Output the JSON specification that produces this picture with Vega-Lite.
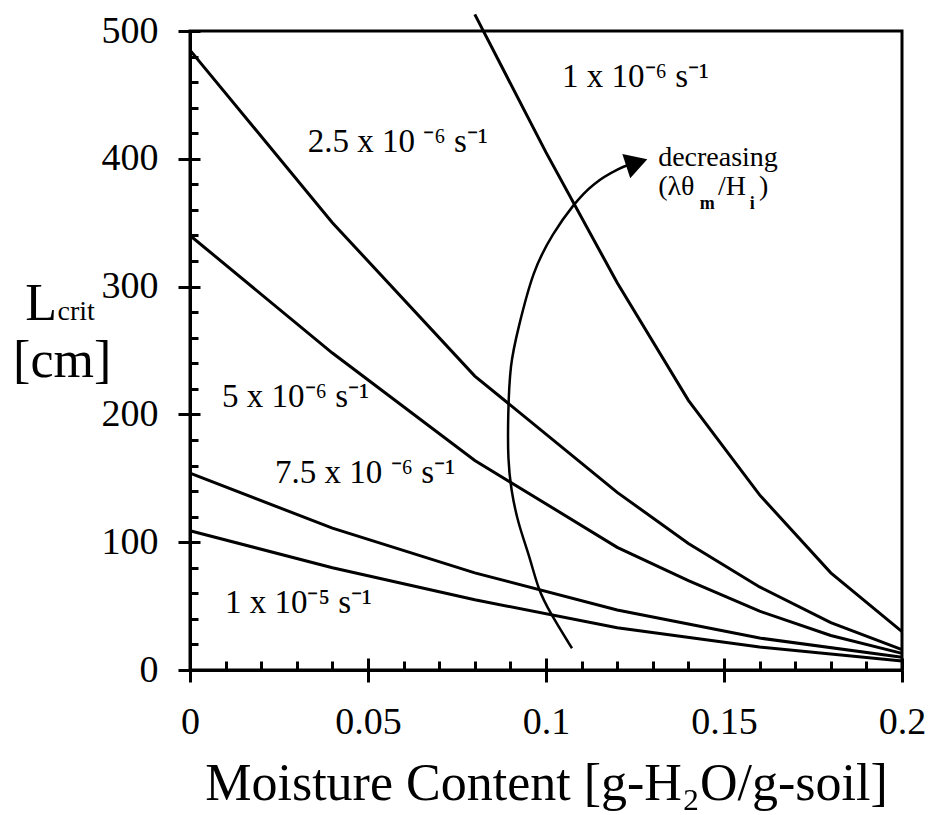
{
  "$schema": "https://vega.github.io/schema/vega-lite/v6.json",
  "width": 712,
  "height": 639,
  "autosize": {"type": "none"},
  "padding": {"left": 190, "top": 31, "right": 29, "bottom": 145},
  "background": "white",
  "config": {
    "view": {"stroke": "black", "strokeWidth": 3},
    "font": "Liberation Serif",
    "axis": {"grid": false, "tickColor": "black", "domainColor": "black", "labelColor": "black", "titleColor": "black", "labelFont": "Liberation Serif", "titleFont": "Liberation Serif"}
  },
  "datasets": {
    "curves": [
      {"series": "1e-6", "x": 0.08, "y": 513},
      {"series": "1e-6", "x": 0.1, "y": 405},
      {"series": "1e-6", "x": 0.12, "y": 303},
      {"series": "1e-6", "x": 0.14, "y": 211},
      {"series": "1e-6", "x": 0.16, "y": 137},
      {"series": "1e-6", "x": 0.18, "y": 76},
      {"series": "1e-6", "x": 0.2, "y": 30},
      {"series": "2.5e-6", "x": 0, "y": 485},
      {"series": "2.5e-6", "x": 0.04, "y": 350},
      {"series": "2.5e-6", "x": 0.08, "y": 230},
      {"series": "2.5e-6", "x": 0.12, "y": 139},
      {"series": "2.5e-6", "x": 0.14, "y": 99},
      {"series": "2.5e-6", "x": 0.16, "y": 65},
      {"series": "2.5e-6", "x": 0.18, "y": 37},
      {"series": "2.5e-6", "x": 0.2, "y": 16},
      {"series": "5e-6", "x": 0, "y": 340},
      {"series": "5e-6", "x": 0.04, "y": 248},
      {"series": "5e-6", "x": 0.08, "y": 164},
      {"series": "5e-6", "x": 0.12, "y": 96},
      {"series": "5e-6", "x": 0.14, "y": 70},
      {"series": "5e-6", "x": 0.16, "y": 46},
      {"series": "5e-6", "x": 0.18, "y": 27},
      {"series": "5e-6", "x": 0.2, "y": 13},
      {"series": "7.5e-6", "x": 0, "y": 154},
      {"series": "7.5e-6", "x": 0.04, "y": 111},
      {"series": "7.5e-6", "x": 0.08, "y": 76},
      {"series": "7.5e-6", "x": 0.12, "y": 47},
      {"series": "7.5e-6", "x": 0.16, "y": 25},
      {"series": "7.5e-6", "x": 0.2, "y": 10},
      {"series": "1e-5", "x": 0, "y": 109},
      {"series": "1e-5", "x": 0.04, "y": 80},
      {"series": "1e-5", "x": 0.08, "y": 55},
      {"series": "1e-5", "x": 0.12, "y": 33},
      {"series": "1e-5", "x": 0.16, "y": 18},
      {"series": "1e-5", "x": 0.2, "y": 7}
    ],
    "arrow": [
      {"o": 1, "x": 0.1073, "y": 17},
      {"o": 2, "x": 0.1011, "y": 45},
      {"o": 3, "x": 0.0978, "y": 63},
      {"o": 4, "x": 0.0955, "y": 88},
      {"o": 5, "x": 0.0921, "y": 115},
      {"o": 6, "x": 0.0902, "y": 141},
      {"o": 7, "x": 0.0893, "y": 164},
      {"o": 8, "x": 0.0893, "y": 198},
      {"o": 9, "x": 0.0899, "y": 240},
      {"o": 10, "x": 0.0921, "y": 266},
      {"o": 11, "x": 0.0963, "y": 313},
      {"o": 12, "x": 0.102, "y": 342},
      {"o": 13, "x": 0.1076, "y": 364},
      {"o": 14, "x": 0.1132, "y": 381},
      {"o": 15, "x": 0.1208, "y": 393},
      {"o": 16, "x": 0.124, "y": 396}
    ],
    "head": [{"x": 0.1255, "y": 397}],
    "labels": [
      {"x": 0.1045, "y": 456, "t": "1 x 10⁻⁶ s⁻¹"},
      {"x": 0.0331, "y": 405, "t": "2.5 x 10 ⁻⁶ s⁻¹"},
      {"x": 0.009, "y": 206, "t": "5 x 10⁻⁶ s⁻¹"},
      {"x": 0.0239, "y": 146, "t": "7.5 x 10 ⁻⁶ s⁻¹"},
      {"x": 0.0098, "y": 44.6, "t": "1 x 10⁻⁵ s⁻¹"}
    ],
    "note": [
      {"x": 0.1315, "y": 394.5, "t": "decreasing"},
      {"x": 0.1315, "y": 371.6, "t": "(λθ"},
      {"x": 0.1483, "y": 371.6, "t": "/H"},
      {"x": 0.1598, "y": 371.6, "t": ")"}
    ],
    "noteSub": [
      {"x": 0.1432, "y": 360.5, "t": "m"},
      {"x": 0.1572, "y": 360.5, "t": "i"}
    ],
    "ytitle": [
      {"x": -0.0463, "y": 274, "t": "L"},
      {"x": -0.0497, "y": 229, "t": "[cm]"}
    ],
    "ytitleSub": [
      {"x": -0.0372, "y": 274, "t": "crit"}
    ]
  },
  "layer": [
    {
      "data": {"name": "curves"},
      "mark": {"type": "line", "color": "black", "strokeWidth": 3, "clip": false},
      "encoding": {
        "x": {"field": "x", "type": "quantitative", "scale": {"domain": [0, 0.2], "nice": false, "zero": false},
          "axis": {"orient": "bottom", "values": [0, 0.05, 0.1, 0.15, 0.2], "format": "~g", "title": "Moisture Content [g-H₂O/g-soil]", "titleFontSize": 52, "titleFontWeight": "normal", "titlePadding": 17, "labelFontSize": 38, "labelPadding": 21, "tickSize": 12, "tickWidth": 3, "domainWidth": 3, "labelFlush": false, "labelOverlap": false}},
        "y": {"field": "y", "type": "quantitative", "scale": {"domain": [0, 500], "nice": false, "zero": false},
          "axis": {"orient": "left", "values": [0, 100, 200, 300, 400, 500], "title": null, "labelFontSize": 38, "labelPadding": 20, "tickSize": 12, "tickWidth": 3, "domainWidth": 3, "labelOverlap": false}},
        "detail": {"field": "series"},
        "order": {"field": "x", "type": "quantitative"}
      }
    },
    {
      "data": {"name": "arrow"},
      "mark": {"type": "line", "color": "black", "strokeWidth": 2.5, "interpolate": "basis", "clip": false},
      "encoding": {
        "x": {"field": "x", "type": "quantitative", "scale": {"domain": [0, 0.2], "nice": false, "zero": false},
          "axis": {"orient": "top", "offset": -639, "values": [0, 0.01, 0.02, 0.03, 0.04, 0.05, 0.06, 0.07, 0.08, 0.09, 0.1, 0.11, 0.12, 0.13, 0.14, 0.15, 0.16, 0.17, 0.18, 0.19, 0.2], "labels": false, "domain": false, "title": null, "tickWidth": 3, "zindex": 1,
            "tickSize": {"condition": {"test": "indexof([0, 0.05, 0.1, 0.15, 0.2], datum.value) >= 0", "value": 12}, "value": 9}}},
        "y": {"field": "y", "type": "quantitative", "scale": {"domain": [0, 500], "nice": false, "zero": false},
          "axis": {"orient": "right", "offset": -712, "values": [0, 20, 40, 60, 80, 100, 120, 140, 160, 180, 200, 220, 240, 260, 280, 300, 320, 340, 360, 380, 400, 420, 440, 460, 480, 500], "labels": false, "domain": false, "title": null, "tickWidth": 3, "zindex": 1,
            "tickSize": {"condition": {"test": "datum.value % 100 == 0", "value": 10}, "value": 8}}},
        "order": {"field": "o", "type": "quantitative"}
      }
    },
    {
      "data": {"name": "head"},
      "mark": {"type": "point", "shape": "triangle-right", "filled": true, "color": "black", "opacity": 1, "size": 650, "angle": -18},
      "encoding": {
        "x": {"field": "x", "type": "quantitative", "scale": {"domain": [0, 0.2], "nice": false, "zero": false}, "axis": null},
        "y": {"field": "y", "type": "quantitative", "scale": {"domain": [0, 500], "nice": false, "zero": false}, "axis": null}
      }
    },
    {
      "data": {"name": "labels"},
      "mark": {"type": "text", "align": "left", "baseline": "alphabetic", "fontSize": 33, "font": "Liberation Serif", "color": "black"},
      "encoding": {
        "x": {"field": "x", "type": "quantitative", "scale": {"domain": [0, 0.2], "nice": false, "zero": false}, "axis": null},
        "y": {"field": "y", "type": "quantitative", "scale": {"domain": [0, 500], "nice": false, "zero": false}, "axis": null},
        "text": {"field": "t"}
      }
    },
    {
      "data": {"name": "note"},
      "mark": {"type": "text", "align": "left", "baseline": "alphabetic", "fontSize": 28, "font": "Liberation Serif", "color": "black"},
      "encoding": {
        "x": {"field": "x", "type": "quantitative", "scale": {"domain": [0, 0.2], "nice": false, "zero": false}, "axis": null},
        "y": {"field": "y", "type": "quantitative", "scale": {"domain": [0, 500], "nice": false, "zero": false}, "axis": null},
        "text": {"field": "t"}
      }
    },
    {
      "data": {"name": "noteSub"},
      "mark": {"type": "text", "align": "left", "baseline": "alphabetic", "fontSize": 18, "fontWeight": "bold", "font": "Liberation Serif", "color": "black"},
      "encoding": {
        "x": {"field": "x", "type": "quantitative", "scale": {"domain": [0, 0.2], "nice": false, "zero": false}, "axis": null},
        "y": {"field": "y", "type": "quantitative", "scale": {"domain": [0, 500], "nice": false, "zero": false}, "axis": null},
        "text": {"field": "t"}
      }
    },
    {
      "data": {"name": "ytitle"},
      "mark": {"type": "text", "align": "left", "baseline": "alphabetic", "fontSize": 52, "font": "Liberation Serif", "color": "black"},
      "encoding": {
        "x": {"field": "x", "type": "quantitative", "scale": {"domain": [0, 0.2], "nice": false, "zero": false}, "axis": null},
        "y": {"field": "y", "type": "quantitative", "scale": {"domain": [0, 500], "nice": false, "zero": false}, "axis": null},
        "text": {"field": "t"}
      }
    },
    {
      "data": {"name": "ytitleSub"},
      "mark": {"type": "text", "align": "left", "baseline": "alphabetic", "fontSize": 28, "font": "Liberation Serif", "color": "black"},
      "encoding": {
        "x": {"field": "x", "type": "quantitative", "scale": {"domain": [0, 0.2], "nice": false, "zero": false}, "axis": null},
        "y": {"field": "y", "type": "quantitative", "scale": {"domain": [0, 500], "nice": false, "zero": false}, "axis": null},
        "text": {"field": "t"}
      }
    }
  ],
  "resolve": {"axis": {"x": "independent", "y": "independent"}}
}
